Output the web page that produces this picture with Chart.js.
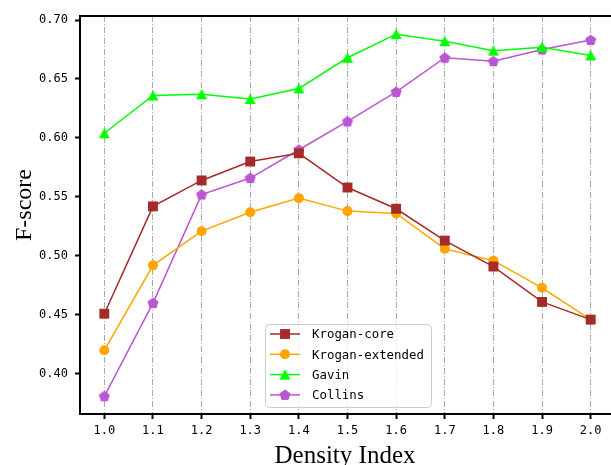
<!DOCTYPE html>
<html>
<head>
<meta charset="utf-8">
<script src="https://cdn.jsdelivr.net/npm/chart.js"></script>
<style>
  html, body { margin: 0; padding: 0; overflow: hidden; background: #fff; }
  #wrap { width: 630px; height: 465px; }
</style>
</head>
<body>
<div id="wrap"><canvas id="fscore" width="630" height="465"></canvas></div>
<script>
const densityIndex = [1.0, 1.1, 1.2, 1.3, 1.4, 1.5, 1.6, 1.7, 1.8, 1.9, 2.0];
const kroganCore = [0.451, 0.542, 0.564, 0.580, 0.587, 0.558, 0.540, 0.513, 0.491, 0.461, 0.446];
const kroganExtended = [0.420, 0.492, 0.521, 0.537, 0.549, 0.538, 0.536, 0.506, 0.496, 0.473, 0.446];
const gavin = [0.604, 0.636, 0.637, 0.633, 0.642, 0.668, 0.688, 0.682, 0.674, 0.677, 0.670];
const collins = [0.381, 0.460, 0.552, 0.566, 0.590, 0.614, 0.639, 0.668, 0.665, 0.675, 0.683];
const yTicks = [0.40, 0.45, 0.50, 0.55, 0.60, 0.65, 0.70];
const xTitle = 'Density Index';
const yTitle = 'F-score';

const MONO = '"DejaVu Sans Mono", "Liberation Mono", monospace';
const SERIF = '"Liberation Serif", "Times New Roman", serif';

// matplotlib-like markers that chart.js doesn't have
const makeMarker = (color, kind) => {
  const c = document.createElement('canvas');
  c.width = 12; c.height = 12;
  const g = c.getContext('2d');
  g.fillStyle = color;
  g.beginPath();
  if (kind === 'triangle') {
    g.moveTo(6, 0.5); g.lineTo(0.5, 11); g.lineTo(11.5, 11);
  } else {
    for (let i = 0; i < 5; i++) {
      const a = -Math.PI / 2 + i * 2 * Math.PI / 5;
      const px = 6 + 5.8 * Math.cos(a), py = 6.4 + 5.8 * Math.sin(a);
      i ? g.lineTo(px, py) : g.moveTo(px, py);
    }
  }
  g.closePath();
  g.fill();
  return c;
};

const toPoints = vals => vals.map((v, i) => ({ x: densityIndex[i], y: v }));

const series = [
  { label: 'Krogan-core', data: kroganCore, color: '#A52A2A', style: 'rect', r: 7 },
  { label: 'Krogan-extended', data: kroganExtended, color: '#FFA500', style: 'circle', r: 5 },
  { label: 'Gavin', data: gavin, color: '#00FF00', style: makeMarker('#00FF00', 'triangle'), r: 6 },
  { label: 'Collins', data: collins, color: '#BA55D3', style: makeMarker('#BA55D3', 'pentagon'), r: 6 }
];

const framePlugin = {
  id: 'frame',
  afterDatasetsDraw(chart) {
    const { ctx, chartArea: a } = chart;
    ctx.save();
    ctx.setLineDash([]);
    ctx.strokeStyle = '#000';
    ctx.lineWidth = 2;
    ctx.strokeRect(a.left, a.top, a.right - a.left, a.bottom - a.top);
    ctx.restore();
  }
};

const titlesPlugin = {
  id: 'titles',
  afterDraw(chart) {
    const ctx = chart.ctx;
    ctx.save();
    ctx.fillStyle = '#000';
    ctx.textAlign = 'center';
    ctx.textBaseline = 'alphabetic';
    ctx.font = '25px ' + SERIF;
    ctx.fillText(xTitle, 345, 463);
    ctx.translate(31, 205);
    ctx.rotate(-Math.PI / 2);
    ctx.font = '24px ' + SERIF;
    ctx.fillText(yTitle, 0, 0);
    ctx.restore();
  }
};

const legendPlugin = {
  id: 'boxLegend',
  afterDraw(chart) {
    const ctx = chart.ctx;
    const x0 = 265, y0 = 324, w = 166, h = 83;
    ctx.save();
    ctx.beginPath();
    ctx.roundRect(x0 + 0.5, y0 + 0.5, w, h, 4);
    ctx.fillStyle = 'rgba(255,255,255,0.8)';
    ctx.fill();
    ctx.strokeStyle = '#cccccc';
    ctx.lineWidth = 1;
    ctx.stroke();
    ctx.font = '12.4px ' + MONO;
    ctx.textBaseline = 'middle';
    series.forEach((s, i) => {
      const y = 334 + i * 20.3;
      ctx.strokeStyle = s.color;
      ctx.lineWidth = 1.5;
      ctx.beginPath();
      ctx.moveTo(270, y);
      ctx.lineTo(300, y);
      ctx.stroke();
      ctx.fillStyle = s.color;
      Chart.helpers.drawPoint(ctx, { pointStyle: s.style, radius: s.r, rotation: 0, borderWidth: 0 }, 285, y);
      ctx.fillStyle = '#000';
      ctx.fillText(s.label, 312, y + 1);
    });
    ctx.restore();
  }
};

new Chart(document.getElementById('fscore'), {
  type: 'line',
  data: {
    datasets: series.map(s => ({
      label: s.label,
      data: toPoints(s.data),
      borderColor: s.color,
      backgroundColor: s.color,
      borderWidth: 1.5,
      pointStyle: s.style,
      pointRadius: s.r,
      pointBorderWidth: 0,
      tension: 0
    }))
  },
  options: {
    responsive: false,
    animation: false,
    devicePixelRatio: 1,
    layout: { padding: { top: 16, right: 15, left: 0, bottom: 0 } },
    plugins: { legend: { display: false }, tooltip: { enabled: false } },
    scales: {
      x: {
        type: 'linear',
        min: 0.95,
        max: 2.05,
        afterFit: scale => { scale.height = 51; },
        afterBuildTicks: scale => { scale.ticks = densityIndex.map(v => ({ value: v })); },
        ticks: {
          color: '#000',
          font: { family: MONO, size: 12 },
          padding: 5,
          maxRotation: 0,
          callback: v => Number(v).toFixed(1)
        },
        grid: {
          color: '#aaaaaa',
          lineWidth: 1,
          tickColor: '#000',
          tickWidth: 2,
          tickLength: 5,
          tickBorderDash: []
        },
        border: { display: true, color: '#000', width: 2, dash: [6, 2, 1, 2] }
      },
      y: {
        min: 0.366,
        max: 0.7034,
        afterFit: scale => { scale.width = 80; },
        afterBuildTicks: scale => { scale.ticks = yTicks.map(v => ({ value: v })); },
        ticks: {
          color: '#000',
          font: { family: MONO, size: 12 },
          padding: 7,
          callback: v => Number(v).toFixed(2)
        },
        grid: {
          drawOnChartArea: false,
          tickColor: '#000',
          tickWidth: 2,
          tickLength: 5
        },
        border: { display: true, color: '#000', width: 2 }
      }
    }
  },
  plugins: [framePlugin, legendPlugin, titlesPlugin]
});
</script>
</body>
</html>
